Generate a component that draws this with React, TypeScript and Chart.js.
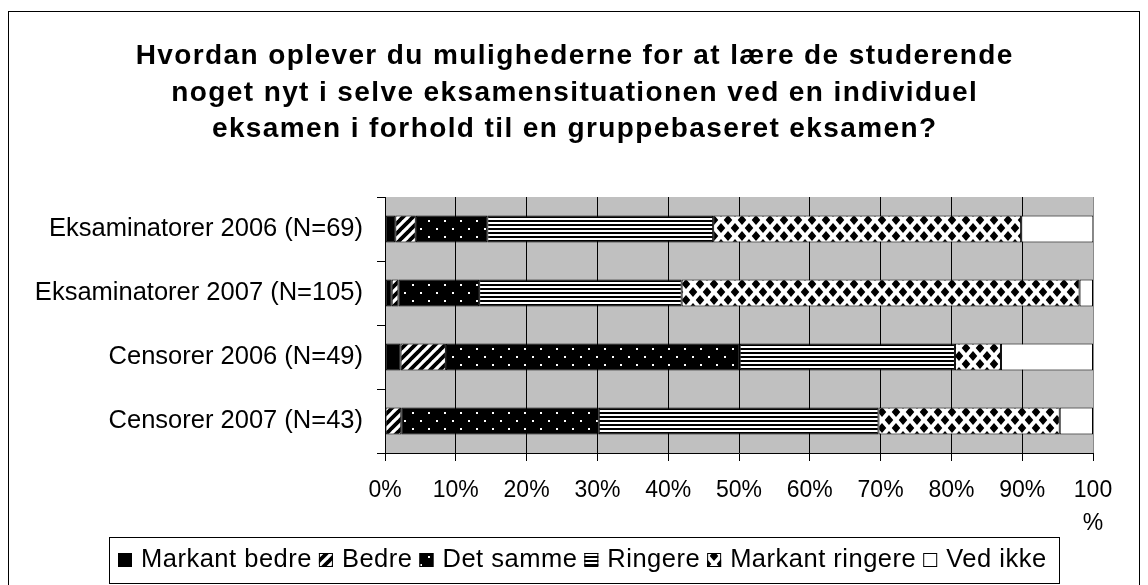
import React, { useEffect, useRef } from 'react';
import { Chart, registerables } from 'chart.js';

Chart.register(...registerables);

const categories = [
  'Eksaminatorer 2006 (N=69)',
  'Eksaminatorer 2007 (N=105)',
  'Censorer 2006 (N=49)',
  'Censorer 2007 (N=43)',
];
const seriesNames = ['Markant bedre', 'Bedre', 'Det samme', 'Ringere', 'Markant ringere', 'Ved ikke'];
const markantBedre = [1.45, 0.95, 2.2, 0];
const bedre = [2.9, 0.95, 6.4, 2.3];
const detSamme = [10.1, 11.4, 41.5, 27.9];
const ringere = [31.9, 28.6, 30.4, 39.5];
const markantRingere = [43.5, 56.2, 6.5, 25.6];
const vedIkke = [10.2, 1.9, 13.0, 4.7];
const xTickLabels: (string | string[])[] = ['0%', '10%', '20%', '30%', '40%', '50%', '60%', '70%', '80%', '90%', ['100', '%']];
const titleLines = [
  'Hvordan oplever du mulighederne for at lære de studerende',
  'noget nyt i selve eksamensituationen ved en individuel',
  'eksamen i forhold til en gruppebaseret eksamen?',
];

const FONT = '"Liberation Sans", Arial, sans-serif';

function tile(w: number, h: number, draw: (g: CanvasRenderingContext2D) => void) {
  const c = document.createElement('canvas');
  c.width = w;
  c.height = h;
  const g = c.getContext('2d') as CanvasRenderingContext2D;
  draw(g);
  return c;
}

function diamond(g: CanvasRenderingContext2D, cx: number, cy: number, rx: number, ry: number) {
  g.moveTo(cx, cy - ry);
  g.lineTo(cx + rx, cy);
  g.lineTo(cx, cy + ry);
  g.lineTo(cx - rx, cy);
  g.closePath();
}

function makeFills(ctx: CanvasRenderingContext2D): (string | CanvasPattern)[] {
  const diag = tile(10, 10, (g) => {
    g.fillStyle = '#fff';
    g.fillRect(0, 0, 10, 10);
    g.strokeStyle = '#000';
    g.lineWidth = 3.8;
    g.beginPath();
    for (const o of [-10, 0, 10]) {
      g.moveTo(o - 1, 11);
      g.lineTo(o + 11, -1);
    }
    g.stroke();
  });
  const dots = tile(16, 16, (g) => {
    g.fillStyle = '#000';
    g.fillRect(0, 0, 16, 16);
    g.fillStyle = '#fff';
    g.fillRect(4, 4, 2, 2);
    g.fillRect(12, 12, 2, 2);
  });
  const hstripes = tile(4, 4, (g) => {
    g.fillStyle = '#fff';
    g.fillRect(0, 0, 4, 4);
    g.fillStyle = '#000';
    g.fillRect(0, 0, 4, 2);
  });
  const diamonds = tile(14, 16, (g) => {
    g.fillStyle = '#fff';
    g.fillRect(0, 0, 14, 16);
    g.fillStyle = '#000';
    g.beginPath();
    for (const [cx, cy] of [[7, 4], [7, 20], [7, -12], [0, 12], [14, 12], [0, -4], [14, -4]]) {
      diamond(g, cx, cy, 4.3, 5);
    }
    g.fill();
  });
  return [
    '#000000',
    ctx.createPattern(diag, 'repeat') as CanvasPattern,
    ctx.createPattern(dots, 'repeat') as CanvasPattern,
    ctx.createPattern(hstripes, 'repeat') as CanvasPattern,
    ctx.createPattern(diamonds, 'repeat') as CanvasPattern,
    '#ffffff',
  ];
}

const decorPlugin = {
  id: 'decor',
  beforeDraw(chart: any) {
    const { ctx, chartArea: a } = chart;
    ctx.save();
    ctx.fillStyle = '#ffffff';
    ctx.fillRect(0, 0, chart.width, chart.height);
    ctx.fillStyle = '#c0c0c0';
    ctx.fillRect(a.left, a.top, a.right - a.left, a.bottom - a.top);
    ctx.restore();
  },
  afterDraw(chart: any) {
    const ctx: CanvasRenderingContext2D = chart.ctx;
    ctx.save();
    // outer frame
    ctx.strokeStyle = '#000';
    ctx.lineWidth = 1;
    ctx.strokeRect(8.5, 11.5, 1131, 600);

    // title
    ctx.fillStyle = '#000';
    ctx.font = `bold 28px ${FONT}`;
    (ctx as any).letterSpacing = '1.4px';
    ctx.textAlign = 'center';
    ctx.textBaseline = 'alphabetic';
    const baselines = [64, 101, 137];
    titleLines.forEach((t, i) => ctx.fillText(t, 574 + 0.7, baselines[i]));

    // legend
    ctx.textAlign = 'left';
    ctx.font = `25.5px ${FONT}`;
    (ctx as any).letterSpacing = '0.5px';
    ctx.strokeRect(109.5, 537.5, 950, 46);
    let x = 118;
    const datasets = chart.data.datasets;
    datasets.forEach((ds: any) => {
      ctx.fillStyle = ds.backgroundColor;
      ctx.fillRect(x, 553, 14, 14);
      ctx.strokeStyle = '#000';
      ctx.lineWidth = 1;
      ctx.strokeRect(x + 0.5, 553.5, 13, 13);
      ctx.fillStyle = '#000';
      const tx = x + 23;
      ctx.fillText(ds.label, tx, 567);
      x = tx + ctx.measureText(ds.label).width + 7;
    });
    ctx.restore();
  },
};

export default function App() {
  const ref = useRef<HTMLCanvasElement>(null);

  useEffect(() => {
    const canvas = ref.current;
    if (!canvas) return;
    const ctx = canvas.getContext('2d') as CanvasRenderingContext2D;
    const fills = makeFills(ctx);
    const values = [markantBedre, bedre, detSamme, ringere, markantRingere, vedIkke];

    const chart = new Chart(canvas, {
      type: 'bar',
      data: {
        labels: categories,
        datasets: seriesNames.map((name, i) => ({
          label: name,
          data: values[i],
          backgroundColor: fills[i] as any,
          borderColor: '#000000',
          borderWidth: 1,
          borderSkipped: false,
          categoryPercentage: 1,
          barPercentage: 0.42,
        })),
      },
      options: {
        indexAxis: 'y',
        responsive: false,
        animation: false,
        events: [],
        layout: { padding: { top: 197, right: 55, bottom: 0, left: 0 } },
        plugins: {
          legend: { display: false },
          title: { display: false },
          tooltip: { enabled: false },
        },
        scales: {
          x: {
            stacked: true,
            min: 0,
            max: 100,
            afterFit: (s: any) => {
              s.height = 132;
            },
            ticks: {
              stepSize: 10,
              autoSkip: false,
              maxRotation: 0,
              color: '#000',
              padding: 13,
              font: { family: FONT, size: 23, lineHeight: 1.45 },
              callback: (_v: any, i: number) => xTickLabels[i],
            },
            grid: {
              color: (c: any) => (c.tick && c.tick.value === 100 ? '#8a8a8a' : '#000000'),
              tickColor: '#000000',
              lineWidth: 1,
              tickLength: 8,
              drawTicks: true,
            },
            border: { display: true, color: '#000000', width: 1 },
          },
          y: {
            stacked: true,
            afterFit: (s: any) => {
              s.width = 385;
            },
            ticks: {
              color: '#000',
              padding: 14,
              font: { family: FONT, size: 25.5 },
            },
            grid: {
              drawOnChartArea: false,
              drawTicks: true,
              tickLength: 8,
              color: '#000000',
              offset: true,
            },
            border: { display: true, color: '#000000', width: 1 },
          },
        },
      },
      plugins: [decorPlugin],
    } as any);

    return () => chart.destroy();
  }, []);

  return (
    <div style={{ position: 'absolute', left: 0, top: 0, width: 1148, height: 585, background: '#fff' }}>
      <canvas ref={ref} width={1148} height={585} style={{ display: 'block', width: 1148, height: 585 }} />
    </div>
  );
}
